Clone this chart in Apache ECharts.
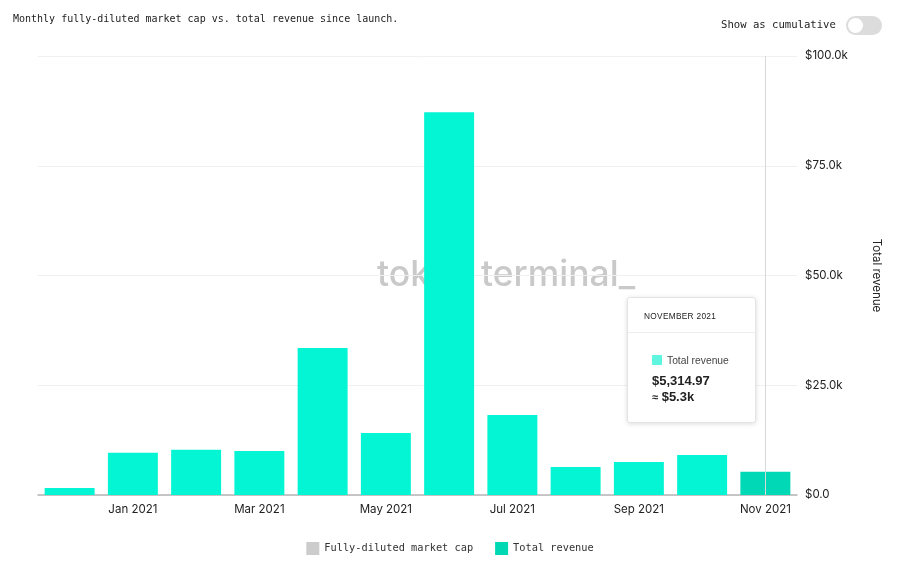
<!DOCTYPE html>
<html>
<head>
<meta charset="utf-8">
<script src="https://cdn.jsdelivr.net/npm/echarts@6/dist/echarts.min.js"></script>
<style>
  html, body { margin: 0; padding: 0; background: #fff; }
  #chart { width: 900px; height: 564px; }
</style>
</head>
<body>
<div id="chart"></div>
<script>
// months since launch
const months = ['Dec 2020', 'Jan 2021', 'Feb 2021', 'Mar 2021', 'Apr 2021', 'May 2021',
                'Jun 2021', 'Jul 2021', 'Aug 2021', 'Sep 2021', 'Oct 2021', 'Nov 2021'];
const monthNames = ['DECEMBER 2020', 'JANUARY 2021', 'FEBRUARY 2021', 'MARCH 2021', 'APRIL 2021', 'MAY 2021',
                    'JUNE 2021', 'JULY 2021', 'AUGUST 2021', 'SEPTEMBER 2021', 'OCTOBER 2021', 'NOVEMBER 2021'];
const totalRevenue = [1600, 9600, 10300, 10000, 33500, 14100, 87200, 18200, 6400, 7500, 9100, 5314.97];
const marketCap = [];
const yTicks = [0, 25000, 50000, 75000, 100000];

const chart = echarts.init(document.getElementById('chart'));
const sans = 'Inter, "Noto Sans", sans-serif';
const mono = '"DejaVu Sans Mono", monospace';

function fmtK(v) {
    if (v === 0) return '$0.0';
    return '$' + (v / 1000).toFixed(1) + 'k';
}

const option = {
    animation: false,
    title: {
        text: 'Monthly fully-diluted market cap vs. total revenue since launch.',
        left: 8,
        top: 9,
        textStyle: { fontFamily: mono, fontSize: 10, fontWeight: 'normal', color: '#222' }
    },
    graphic: [
        {
            type: 'text', left: 721, top: 20, z: 10,
            style: { text: 'Show as cumulative', font: '10.6px ' + mono, fill: '#222' }
        },
        {
            type: 'rect', left: 846, top: 16, z: 10,
            shape: { width: 36, height: 19, r: 9.5 },
            style: { fill: '#dcdcdc' }
        },
        {
            type: 'circle', left: 848, top: 18, z: 11,
            shape: { r: 7.5 },
            style: { fill: '#fff' }
        },
        {
            type: 'text', left: 377, top: 257, z: 0, zlevel: 0,
            style: { text: 'token terminal_', font: '500 35.5px ' + sans, fill: '#c9c9c9' }
        }
    ],
    legend: {
        bottom: 4,
        left: 'center',
        itemWidth: 13,
        itemHeight: 13,
        itemGap: 22,
        icon: 'rect',
        textStyle: { fontFamily: mono, fontSize: 10.3, color: '#333' },
        data: [
            { name: 'Fully-diluted market cap', itemStyle: { color: '#cccccc' } },
            { name: 'Total revenue', itemStyle: { color: '#00d7b3' } }
        ]
    },
    grid: { left: 38, right: 103, top: 56, bottom: 69 },
    tooltip: {
        trigger: 'axis',
        alwaysShowContent: true,
        transitionDuration: 0,
        position: [627, 297],
        padding: 0,
        borderColor: '#e4e4e4',
        borderWidth: 1,
        backgroundColor: '#fff',
        extraCssText: 'border-radius:3px;box-shadow:0 1px 5px rgba(0,0,0,0.14);width:127px;',
        axisPointer: {
            type: 'line',
            z: 5,
            lineStyle: { color: '#d8d8d8', width: 1, type: 'solid' }
        },
        formatter: function (params) {
            const p = params.find(function (d) { return d.seriesName === 'Total revenue'; });
            const v = p.value;
            return '<div style="font-family:' + sans + ';">' +
                '<div style="font-size:8.3px;letter-spacing:0.3px;color:#222;padding:11px 16px 9px 16px;border-bottom:1px solid #eee;line-height:14px;">' +
                monthNames[p.dataIndex] + '</div>' +
                '<div style="padding:21px 12px 17px 24px;">' +
                '<div style="font-size:10.3px;color:#444;line-height:14px;">' +
                '<span style="display:inline-block;width:10px;height:10px;background:#5ff5de;vertical-align:-1px;margin-right:5px;"></span>Total revenue</div>' +
                '<div style="font-size:13px;font-weight:600;color:#222;line-height:16px;margin-top:5px;">$' +
                v.toLocaleString('en-US', { minimumFractionDigits: 2, maximumFractionDigits: 2 }) + '</div>' +
                '<div style="font-size:13px;font-weight:600;color:#222;line-height:16px;">' +
                '<span style="font-size:11px;">≈</span> ' + fmtK(Math.round(v / 100) * 100) + '</div>' +
                '</div></div>';
        }
    },
    xAxis: {
        type: 'category',
        data: months,
        axisLine: { lineStyle: { color: '#b5b5b5', width: 1.5 } },
        axisTick: { show: false },
        axisLabel: {
            interval: function (i) { return i % 2 === 1; },
            fontFamily: sans,
            fontSize: 11.5,
            color: '#222',
            margin: 9
        }
    },
    yAxis: {
        type: 'value',
        position: 'right',
        min: 0,
        max: 100000,
        interval: 25000,
        name: 'Total revenue',
        nameLocation: 'middle',
        nameRotate: -90,
        nameGap: 73,
        nameTextStyle: { fontFamily: sans, fontSize: 11.5, color: '#222' },
        axisLine: { show: false },
        axisTick: { show: false },
        axisLabel: {
            fontFamily: sans,
            fontSize: 11.5,
            color: '#222',
            margin: 8,
            formatter: function (v) { return yTicks.indexOf(v) >= 0 ? fmtK(v) : ''; }
        },
        splitLine: { lineStyle: { color: '#f0f0f0', width: 1 } }
    },
    series: [
        {
            name: 'Fully-diluted market cap',
            type: 'line',
            data: marketCap,
            itemStyle: { color: '#cccccc' }
        },
        {
            name: 'Total revenue',
            type: 'bar',
            data: totalRevenue,
            barCategoryGap: '21%',
            itemStyle: { color: '#03f5d4' },
            emphasis: { itemStyle: { color: '#00d8b6' } }
        }
    ]
};

chart.setOption(option);
chart.dispatchAction({ type: 'highlight', seriesIndex: 1, dataIndex: 11 });
chart.dispatchAction({ type: 'showTip', seriesIndex: 1, dataIndex: 11 });
</script>
</body>
</html>
